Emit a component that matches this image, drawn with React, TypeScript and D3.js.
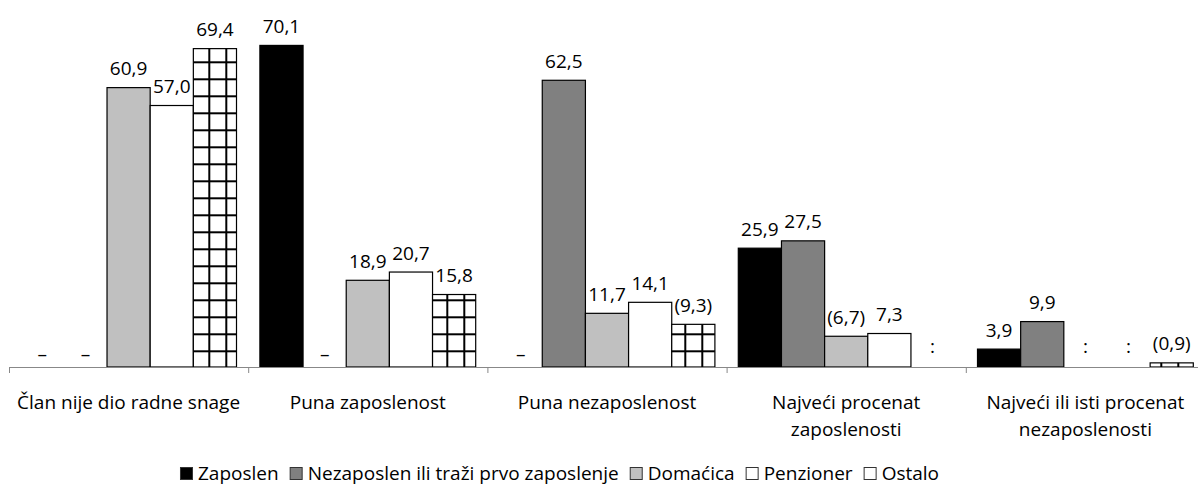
import { useEffect, useRef } from 'react'
import * as d3 from 'd3'

const categories = [
  ['Član nije dio radne snage'],
  ['Puna zaposlenost'],
  ['Puna nezaposlenost'],
  ['Najveći procenat', 'zaposlenosti'],
  ['Najveći ili isti procenat', 'nezaposlenosti'],
]

const seriesNames = [
  'Zaposlen',
  'Nezaposlen ili traži prvo zaposlenje',
  'Domaćica',
  'Penzioner',
  'Ostalo',
]

// null = no value; notes: '–' none, ':' unreliable/hidden, '()' low precision
const zaposlen = [null, 70.1, null, 25.9, 3.9]
const nezaposlen = [null, null, 62.5, 27.5, 9.9]
const domacica = [60.9, 18.9, 11.7, 6.7, null]
const penzioner = [57.0, 20.7, 14.1, 7.3, null]
const ostalo = [69.4, 15.8, 9.3, null, 0.9]

const zaposlenNotes = ['–', '', '–', '', '']
const nezaposlenNotes = ['–', '–', '', '', '']
const domacicaNotes = ['', '', '', '()', ':']
const penzionerNotes = ['', '', '', '', ':']
const ostaloNotes = ['', '', '()', ':', '()']

const seriesValues = [zaposlen, nezaposlen, domacica, penzioner, ostalo]
const seriesNotes = [zaposlenNotes, nezaposlenNotes, domacicaNotes, penzionerNotes, ostaloNotes]
const seriesFills = ['#000000', '#808080', '#c0c0c0', '#ffffff', 'url(#grid)']
const legendFills = ['#000000', '#808080', '#c0c0c0', '#ffffff', '#ffffff']

const width = 1198
const height = 486
const margin = { top: 0, right: -7, bottom: 119, left: 9 }
const FONT = '"Open Sans", sans-serif'
const FS = 19

const App = () => {
  const svgRef = useRef<SVGSVGElement>(null)

  useEffect(() => {
    if (!svgRef.current) return
    const svg = d3.select(svgRef.current)
    svg.selectAll('*').remove()

    const baseY = height - margin.bottom

    const x0 = d3
      .scaleBand<number>()
      .domain(d3.range(categories.length))
      .range([margin.left, width - margin.right])

    const x1 = d3
      .scaleBand<number>()
      .domain(d3.range(seriesNames.length))
      .range([11.7, x0.bandwidth() - 11.7])

    const y = d3.scaleLinear().domain([0, 80]).range([baseY, margin.top])

    const fmt = (v: number) => d3.format('.1f')(v).replace('.', ',')

    const defs = svg.append('defs')
    const pat = defs
      .append('pattern')
      .attr('id', 'grid')
      .attr('patternUnits', 'userSpaceOnUse')
      .attr('x', 4.3)
      .attr('y', 10.3)
      .attr('width', 17)
      .attr('height', 17)
    pat.append('rect').attr('width', 17).attr('height', 17).attr('fill', '#fff')
    pat.append('rect').attr('x', 0).attr('y', 0).attr('width', 2).attr('height', 17).attr('fill', '#000')
    pat.append('rect').attr('x', 0).attr('y', 0).attr('width', 17).attr('height', 2).attr('fill', '#000')

    // bars
    const bars = svg.append('g')
    seriesValues.forEach((vals, s) => {
      vals.forEach((v, c) => {
        if (v == null) return
        bars
          .append('rect')
          .attr('x', x0(c)! + x1(s)!)
          .attr('y', y(v))
          .attr('width', x1.bandwidth())
          .attr('height', baseY - y(v))
          .attr('fill', seriesFills[s])
          .attr('stroke', '#000')
          .attr('stroke-width', 1.2)
      })
    })

    // axis
    const axis = svg.append('g').attr('stroke', '#888')
    axis
      .append('line')
      .attr('x1', margin.left)
      .attr('x2', width)
      .attr('y1', baseY + 0.5)
      .attr('y2', baseY + 0.5)
      .attr('stroke-width', 1)
    d3.range(categories.length + 1).forEach(i => {
      const xx = margin.left + i * x0.step() + 0.5
      axis
        .append('line')
        .attr('x1', xx)
        .attr('x2', xx)
        .attr('y1', baseY)
        .attr('y2', baseY + 6)
    })

    // value labels
    const labels = svg
      .append('g')
      .attr('font-family', FONT)
      .attr('font-size', FS)
      .attr('text-anchor', 'middle')
      .attr('fill', '#000')
    seriesValues.forEach((vals, s) => {
      vals.forEach((v, c) => {
        const cx = x0(c)! + x1(s)! + x1.bandwidth() / 2
        const note = seriesNotes[s][c]
        if (v == null) {
          labels
            .append('text')
            .attr('x', cx)
            .attr('y', note === ':' ? baseY - 14 : baseY - 6)
            .text(note)
          return
        }
        const txt = note === '()' ? `(${fmt(v)})` : fmt(v)
        labels
          .append('text')
          .attr('x', cx)
          .attr('y', y(v) - 12.5)
          .text(txt)
      })
    })

    // category labels
    const cats = svg
      .append('g')
      .attr('font-family', FONT)
      .attr('font-size', FS)
      .attr('text-anchor', 'middle')
    categories.forEach((lines, c) => {
      const t = cats
        .append('text')
        .attr('x', x0(c)! + x0.bandwidth() / 2)
        .attr('y', baseY + 42)
      lines.forEach((ln, i) => {
        t.append('tspan')
          .attr('x', x0(c)! + x0.bandwidth() / 2)
          .attr('dy', i === 0 ? 0 : 27)
          .text(ln)
      })
    })

    // legend
    const leg = svg.append('g').attr('font-family', FONT).attr('font-size', FS)
    const items = seriesNames.map((name, i) => {
      const g = leg.append('g')
      g.append('rect')
        .attr('x', 0.5)
        .attr('y', -12.5)
        .attr('width', 12)
        .attr('height', 12)
        .attr('fill', legendFills[i])
        .attr('stroke', '#333')
      const t = g.append('text').attr('x', 18).attr('y', 0).text(name)
      const w = 18 + (t.node() as SVGTextElement).getComputedTextLength()
      return { g, w }
    })
    const gap = 11
    const total = d3.sum(items, d => d.w) + gap * (items.length - 1)
    let lx = 559.5 - total / 2
    items.forEach(it => {
      it.g.attr('transform', `translate(${lx},480)`)
      lx += it.w + gap
    })
  }, [])

  return (
    <svg
      ref={svgRef}
      width={width}
      height={height}
      style={{ position: 'absolute', left: 0, top: 0, background: '#fff' }}
    />
  )
}

export default App
